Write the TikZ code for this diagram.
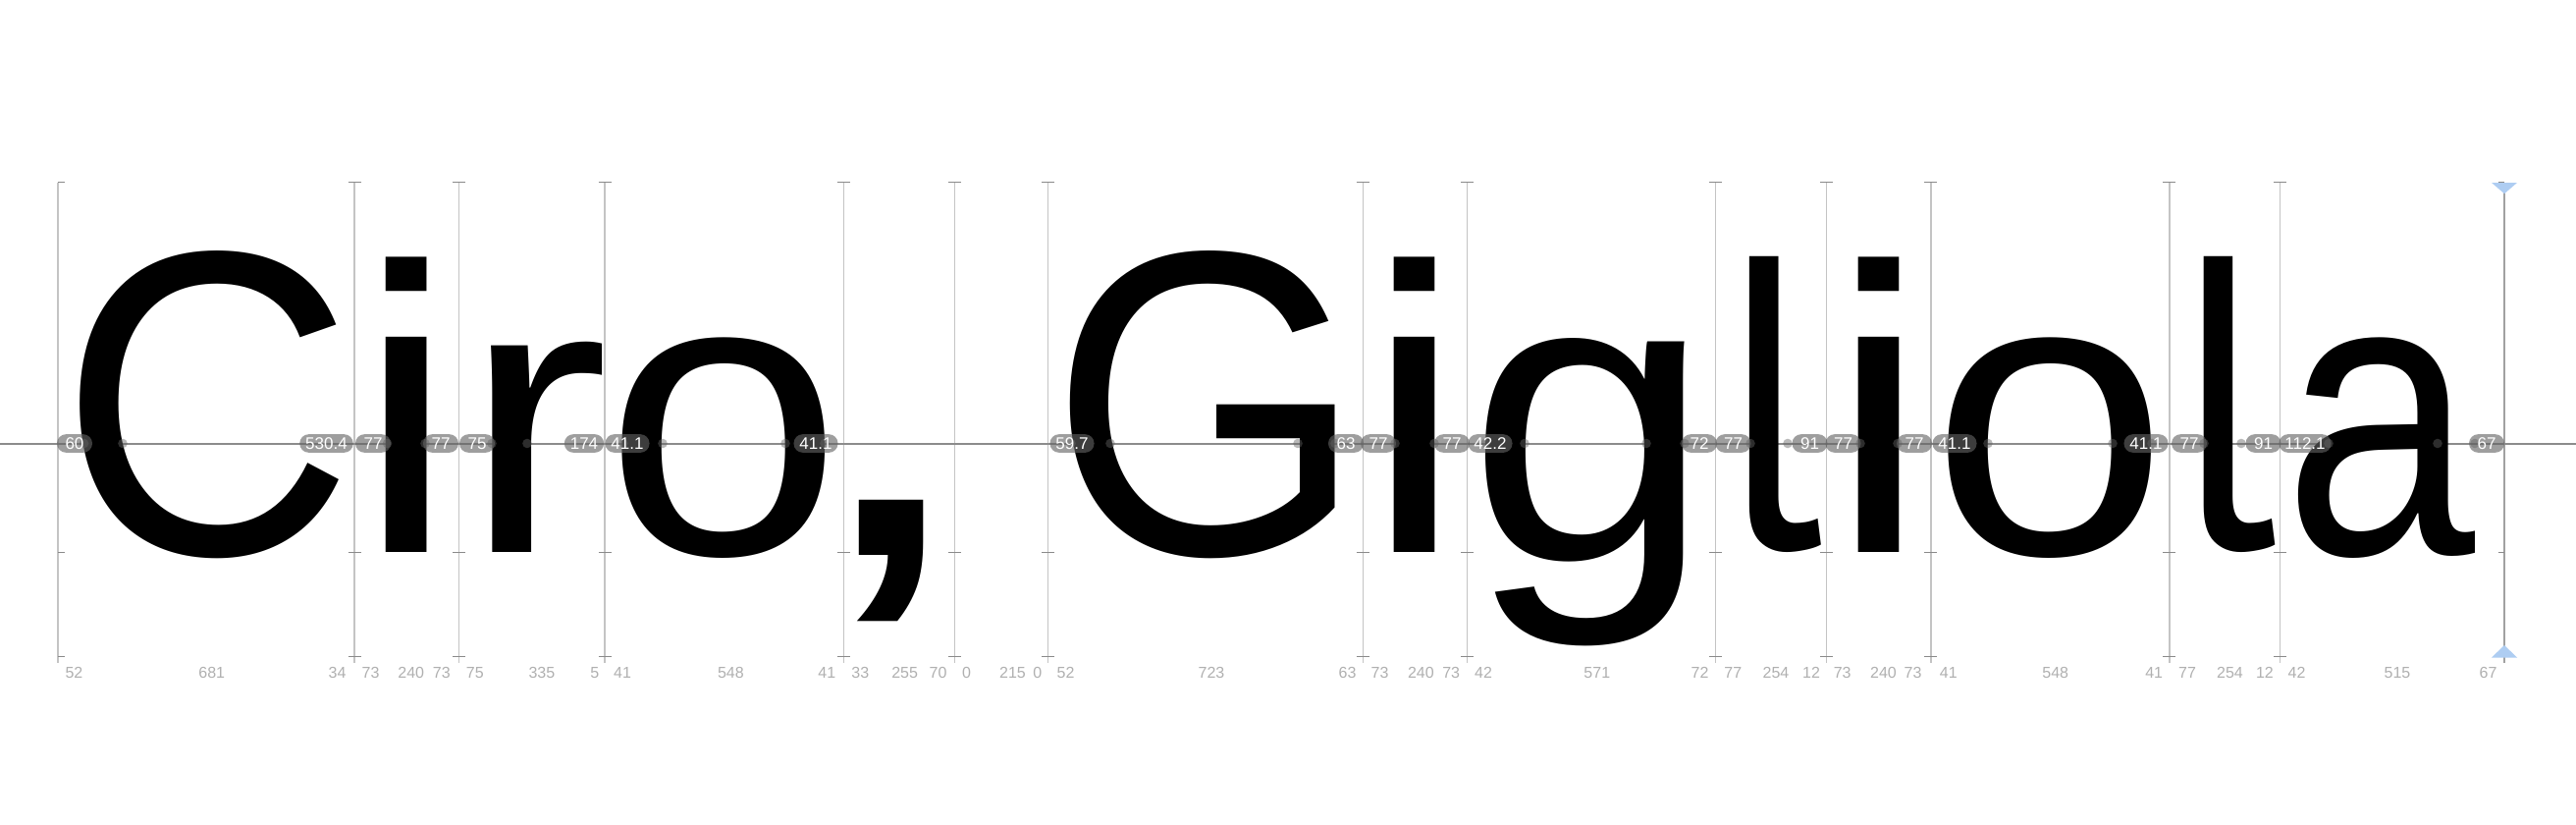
\documentclass[tikz,border=0pt]{standalone}
\usepackage{fontspec}
\usepackage{graphicx}
\setmainfont{Liberation Sans}
\newfontfamily\glyphfont{Liberation Sans}
\newfontfamily\tailfont{PT Sans}
\definecolor{vlinec}{HTML}{C4C4C4}
\definecolor{tickc}{HTML}{8A8A8A}
\definecolor{hlinec}{HTML}{8C8C8C}
\definecolor{pillc}{RGB}{100,100,100}
\definecolor{botc}{HTML}{B0B0B0}
\definecolor{bluec}{HTML}{AECDF2}
\tikzset{
  glyph/.style={anchor=base west, inner sep=0pt, outer sep=0pt},
  pill/.style={fill=pillc, fill opacity=0.62, text opacity=1, text=white,
    rounded corners=9.3pt, minimum height=18.7pt, minimum width=36pt,
    inner xsep=6pt, inner ysep=0pt, font=\fontsize{17}{17}\selectfont},
  botlabel/.style={text=botc, inner sep=0pt, font=\fontsize{16}{16}\selectfont},
  vln/.style={draw=vlinec, line width=1.2pt},
  tck/.style={draw=tickc, line width=1.2pt},
  enddot/.style={fill=pillc, fill opacity=0.45, draw=none},
}
\newdimen\GLwd \newdimen\GLlsb \newdimen\GLtop \newdimen\GLrsb \newdimen\GLbot
\newbox\GLbox
% measure a glyph: #1 key, #2 char, #3 font command
\newcommand\GLm[3]{%
  \setbox\GLbox=\hbox{#3\fontsize{400}{400}\selectfont
    \setbox0=\hbox{#2}\global\GLwd=\wd0
    \global\GLlsb=\XeTeXglyphbounds1 \XeTeXcharglyph`#2\relax
    \global\GLtop=\XeTeXglyphbounds2 \XeTeXcharglyph`#2\relax
    \global\GLrsb=\XeTeXglyphbounds3 \XeTeXcharglyph`#2\relax
    \global\GLbot=\XeTeXglyphbounds4 \XeTeXcharglyph`#2\relax}%
  \expandafter\xdef\csname GLwd#1\endcsname{\the\GLwd}%
  \expandafter\xdef\csname GLlsb#1\endcsname{\the\GLlsb}%
  \expandafter\xdef\csname GLtop#1\endcsname{\the\GLtop}%
  \expandafter\xdef\csname GLrsb#1\endcsname{\the\GLrsb}%
  \expandafter\xdef\csname GLbot#1\endcsname{\the\GLbot}%
  \expandafter\gdef\csname GLfont#1\endcsname{#3}%
}
% #1 name, #2 key, #3 char, #4 xL, #5 xR, #6 yTop, #7 yBot (ink box, y downward)
\newcommand\GL[7]{%
  \edef\Wd{\csname GLwd#2\endcsname}\edef\Lsb{\csname GLlsb#2\endcsname}%
  \edef\Top{\csname GLtop#2\endcsname}\edef\Rsb{\csname GLrsb#2\endcsname}%
  \edef\Bot{\csname GLbot#2\endcsname}%
  \pgfmathsetmacro\inkw{\Wd-\Lsb-\Rsb}%
  \pgfmathsetmacro\inkh{\Top+\Bot}%
  \pgfmathsetmacro\GLsx{(#5-#4)/\inkw}%
  \pgfmathsetmacro\GLsy{(#7-#6)/\inkh}%
  \pgfmathsetmacro\GLx{#4-\GLsx*\Lsb}%
  \pgfmathsetmacro\GLy{#6+\GLsy*\Top}%
  \node[glyph] (#1) at (\GLx,\GLy) {\scalebox{\GLsx}[\GLsy]{\csname GLfont#2\endcsname\fontsize{400}{400}\selectfont #3}};%
}
\begin{document}
\GLm{C}{C}{\glyphfont}\GLm{i}{i}{\glyphfont}\GLm{r}{r}{\glyphfont}\GLm{o}{o}{\glyphfont}%
\GLm{comma}{,}{\glyphfont}\GLm{G}{G}{\glyphfont}\GLm{g}{g}{\glyphfont}\GLm{l}{l}{\tailfont}%
\GLm{a}{a}{\glyphfont}%
\begin{tikzpicture}[x=1pt,y=-1pt]
\useasboundingbox (0,0) rectangle (2624,840);
\fill[white] (0,0) rectangle (2624,840);
% vertical metric lines
\foreach \x in {59,361,467.5,616,859.1,972.2,1067.5,1388.2,1494.6,1747.8,1860.5,1966.9,2209.9,2322.6}{
  \draw[vln] (\x,185.8) -- (\x,675);
}
\draw[draw=tickc!80, line width=1.2pt] (2551,185.8) -- (2551,675);
% ticks
\foreach \x in {361,467.5,616,859.1,972.2,1067.5,1388.2,1494.6,1747.8,1860.5,1966.9,2209.9,2322.6}{
  \draw[tck] (\x-6.5,185.8) -- (\x+6.5,185.8);
  \draw[tck] (\x-6.5,562.3) -- (\x+6.5,562.3);
  \draw[tck] (\x-6.5,668.5) -- (\x+6.5,668.5);
}
\foreach \y in {185.8,562.3,668.5}{
  \draw[tck] (59,\y) -- (65.5,\y);
  \draw[tck] (2544.5,\y) -- (2551,\y);
}
% measurement line
\draw[draw=hlinec, line width=2pt] (0,451.5) -- (2624,451.5);
% glyphs
\GL{gC}{C}{C}{82.1}{345.9}{255.7}{569}
\GL{gi1}{i}{i}{393.4}{435.1}{261.7}{562.3}
\GL{gr}{r}{r}{500.8}{613.8}{348}{562.3}
\GL{go1}{o}{o}{634.2}{840.9}{344.3}{569}
\GL{gcomma}{comma}{,}{873.7}{941.2}{509.5}{633}
\GL{gG}{G}{G}{1090.6}{1360.3}{255.7}{569}
\GL{gi2}{i}{i}{1420.6}{1462.2}{261.7}{562.3}
\GL{gg}{g}{g}{1513.2}{1715.9}{344.3}{657.7}
\GL{gl1}{l}{l}{1782.7}{1855.7}{261.7}{563}
\GL{gi3}{i}{i}{1892.9}{1934.5}{261.7}{562.3}
\GL{go2}{o}{o}{1985.1}{2191.7}{344.3}{569}
\GL{gl2}{l}{l}{2244.7}{2317.3}{261.7}{563}
\GL{ga}{a}{a}{2341.2}{2521.3}{344.3}{569}
% intersection dots of the measurement line with the outlines
\foreach \x in {85.6,125,394.5,433,501,537,635,675,800,840,1091,1131,1322,1360,1421,1461,
  1513,1553,1677,1716,1783,1821,1895,1933,1985,2025,2152,2192,2245,2283,2372,2483,2521}{
  \path[enddot] (\x,451.5) circle (4.8);
}
% pills
\foreach \x/\t [count=\i] in {76/60, 332.5/530.4, 380/77, 449/77, 486/75, 595/174, 639/41.1, 831/41.1,
  1092/59.7, 1371/63, 1404/77, 1479/77, 1518/42.2, 1731/72, 1765.5/77, 1843.5/91, 1877.5/77, 1950/77,
  1991/41.1, 2186/41.1, 2230/77, 2305.5/91, 2348/112.1, 2533/67}{
  \node[pill] (pill\i) at (\x,451.5) {\t};
}
% bottom sidebearing / width labels
\foreach \x/\t [count=\i] in {75.5/52, 215.8/681, 343.6/34, 377.6/73, 418.7/240, 449.8/73, 483.8/75,
  551.9/335, 605.8/5, 634/41, 744.4/548, 842.3/41, 876.3/33, 921.6/255, 955.6/70, 984.6/0,
  1031.5/215, 1056.8/0, 1085.5/52, 1234/723, 1372.6/63, 1405.5/73, 1447.4/240, 1478.2/73,
  1511/42, 1626.8/571, 1731.5/72, 1765.3/77, 1809/254, 1845/12, 1876.7/73, 1918.5/240,
  1948.5/73, 1984.8/41, 2093.7/548, 2194.2/41, 2228/77, 2271.5/254, 2306.9/12, 2339.5/42,
  2442/515, 2534.5/67}{
  \node[botlabel] (bot\i) at (\x,685) {\t};
}
% blue markers
\fill[bluec] (2538,186) -- (2564,186) -- (2551,197.2) -- cycle;
\fill[bluec] (2538,669.5) -- (2564,669.5) -- (2551,657) -- cycle;
\end{tikzpicture}
\end{document}
